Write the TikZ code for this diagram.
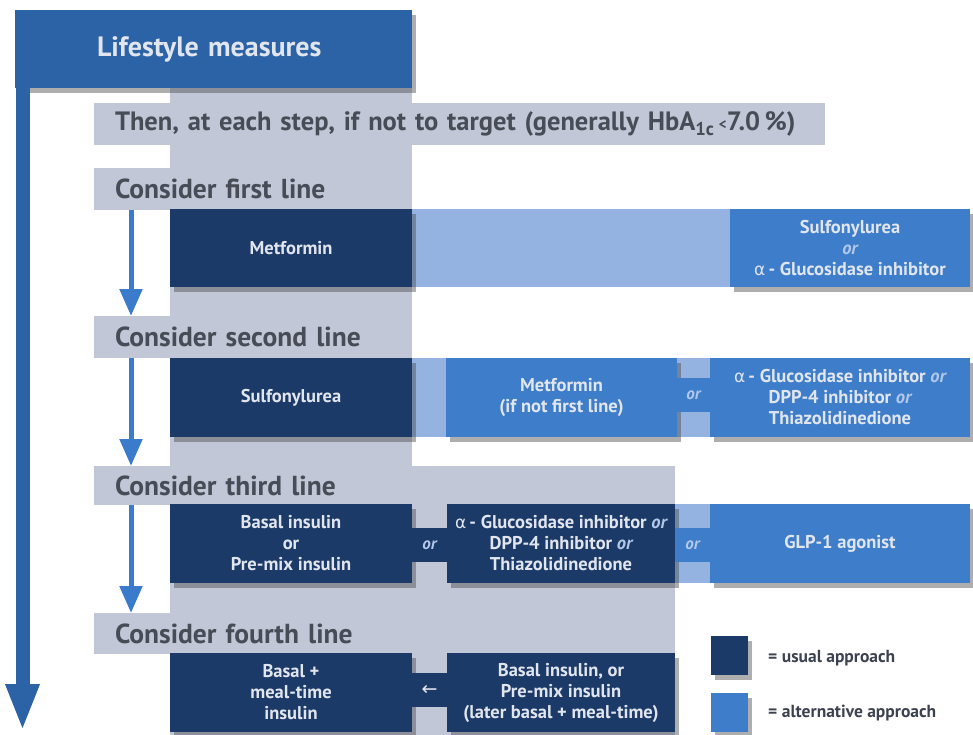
\documentclass[tikz,border=0pt]{standalone}
\usepackage{fontspec}
\setmainfont{PT Sans}
\newfontfamily\symfont{DejaVu Sans}
\usetikzlibrary{arrows.meta,shadows}
\definecolor{hdrblue}{RGB}{44,98,166}
\definecolor{navy}{RGB}{28,58,104}
\definecolor{midblue}{RGB}{61,125,201}
\definecolor{ltblue}{RGB}{148,179,224}
\definecolor{panelgray}{RGB}{193,199,215}
\definecolor{bartext}{RGB}{72,76,86}
\definecolor{boxtext}{RGB}{225,229,238}
\definecolor{ortext}{RGB}{178,200,234}
\definecolor{arrowblue}{RGB}{58,123,203}
\definecolor{legtext}{RGB}{60,66,80}
\newcommand{\aor}{\textit{\textcolor{ortext}{or}}}
\newcommand{\alphasym}{{\symfont\mdseries\fontsize{17}{21}\selectfont α}}
\tikzset{
  shade box/.style={drop shadow={shadow xshift=4pt, shadow yshift=-5pt, opacity=0.45, fill=black!70}},
  box/.style={rectangle, inner sep=0pt, outer sep=0pt, anchor=north west, align=center,
    text=boxtext, font=\bfseries\fontsize{18.5}{21}\selectfont, shade box},
  usual/.style={box, fill=navy},
  alt/.style={box, fill=midblue},
  link/.style={rectangle, inner sep=0pt, outer sep=0pt, anchor=north west,
    minimum width=35pt, minimum height=34pt, text=ortext,
    font=\bfseries\itshape\fontsize{17}{18}\selectfont},
  graybar/.style={rectangle, fill=panelgray, inner ysep=0pt, inner xsep=21pt, outer sep=0pt,
    anchor=north west, align=left, text=bartext, font=\bfseries\fontsize{27.5}{30}\selectfont},
  smallarrow/.style={draw=arrowblue, line width=5pt, -{Triangle[width=22pt,length=27pt]}},
  mainarrow/.style={draw=hdrblue, line width=14pt, -{Triangle[width=31pt,length=47pt]}},
  legbox/.style={rectangle, inner sep=0pt, outer sep=0pt, anchor=north west,
    minimum width=37pt, minimum height=39pt, shade box},
  legtxt/.style={anchor=west, inner sep=0pt, text=legtext, font=\bfseries\fontsize{17.5}{20}\selectfont}
}
\begin{document}
\begin{tikzpicture}[x=1pt,y=-1pt]
\useasboundingbox (0,0) rectangle (973,735);
% gray background panel
\fill[panelgray] (170,88) rectangle (412,467);
\fill[panelgray] (170,466) rectangle (675,735);
% header
\node[rectangle, fill=hdrblue, inner xsep=82pt, inner ysep=0pt, outer sep=0pt, anchor=north west,
  minimum height=78pt, text width=233pt, align=left, text=boxtext,
  font=\bfseries\fontsize{28}{30}\selectfont, shade box] (hdr) at (15,10) {\raisebox{-3pt}{Lifestyle measures}};
% gray bars
\node[graybar, text width=689pt, minimum height=42pt, font=\bfseries\fontsize{26.5}{30}\selectfont] (thenbar) at (94,103)
  {Then, at each step, if not to target (generally HbA\textsubscript{1c}\,\raisebox{1pt}{\fontsize{15}{15}\selectfont<}7.0\,\%)};
\node[graybar, text width=276pt, minimum height=42pt] (bar1) at (94,168) {Consider first line};
\node[graybar, text width=276pt, minimum height=42pt] (bar2) at (94,316) {Consider second line};
\node[graybar, text width=539pt, minimum height=39pt] (bar3) at (94,466) {Consider third line};
\node[graybar, text width=539pt, minimum height=41pt] (bar4) at (94,613) {Consider fourth line};
% light blue bands
\fill[ltblue] (412,209) rectangle (730,287);
\fill[ltblue] (412,358) rectangle (970,437);
\fill[ltblue] (675,504) rectangle (710,583);
% row 1
\node[usual, minimum width=242pt, minimum height=78pt] (met1) at (170,209) {Metformin};
\node[alt, minimum width=240pt, minimum height=78pt] (sfu1) at (730,209)
  {Sulfonylurea\\ \aor\\ \alphasym\,- Glucosidase inhibitor};
% row 2
\node[usual, minimum width=242pt, minimum height=79pt] (sfu2) at (170,358) {Sulfonylurea};
\node[alt, minimum width=231pt, minimum height=79pt] (met2) at (446,358) {Metformin\\ (if not first line)};
\node[alt, minimum width=260pt, minimum height=79pt] (agi2) at (710,358)
  {\alphasym\,- Glucosidase inhibitor \aor\\ DPP-4 inhibitor \aor\\ Thiazolidinedione};
\node[link, fill=midblue, minimum width=33pt] (or2) at (677,378) {or};
% row 3
\node[usual, minimum width=242pt, minimum height=79pt] (bas3) at (170,504)
  {Basal insulin\\ or\\ Pre-mix insulin};
\node[usual, minimum width=228pt, minimum height=79pt] (agi3) at (447,504)
  {\alphasym\,- Glucosidase inhibitor \aor\\ DPP-4 inhibitor \aor\\ Thiazolidinedione};
\node[alt, minimum width=260pt, minimum height=79pt] (glp3) at (710,504) {GLP-1 agonist};
\node[link, fill=navy] (or3a) at (412,528) {or};
\node[link, fill=midblue] (or3b) at (675,528) {or};
% row 4
\node[usual, minimum width=242pt, minimum height=79pt] (bmt4) at (170,653)
  {Basal +\\ meal-time\\ insulin};
\node[usual, minimum width=228pt, minimum height=79pt] (bpm4) at (447,653)
  {Basal insulin, or\\ Pre-mix insulin\\ (later basal + meal-time)};
\node[link, fill=navy, text=boxtext, font=\symfont\fontsize{19}{20}\selectfont] (arr4) at (412,673) {←};
% legend
\node[legbox, fill=navy] (legU) at (711,636) {};
\node[legbox, fill=midblue] (legA) at (711,693) {};
\node[legtxt] (legUt) at (768,658) {= usual approach};
\node[legtxt] (legAt) at (768,713) {= alternative approach};
% arrows
\coordinate (mainend) at (22.5,731);
\draw[mainarrow] ([xshift=7.5pt]hdr.south west) -- (mainend);
\draw[smallarrow] ([xshift=37pt]bar1.south west) -- ([xshift=37pt]bar2.north west);
\draw[smallarrow] ([xshift=37pt]bar2.south west) -- ([xshift=37pt]bar3.north west);
\draw[smallarrow] ([xshift=37pt]bar3.south west) -- ([xshift=37pt]bar4.north west);
\end{tikzpicture}
\end{document}
